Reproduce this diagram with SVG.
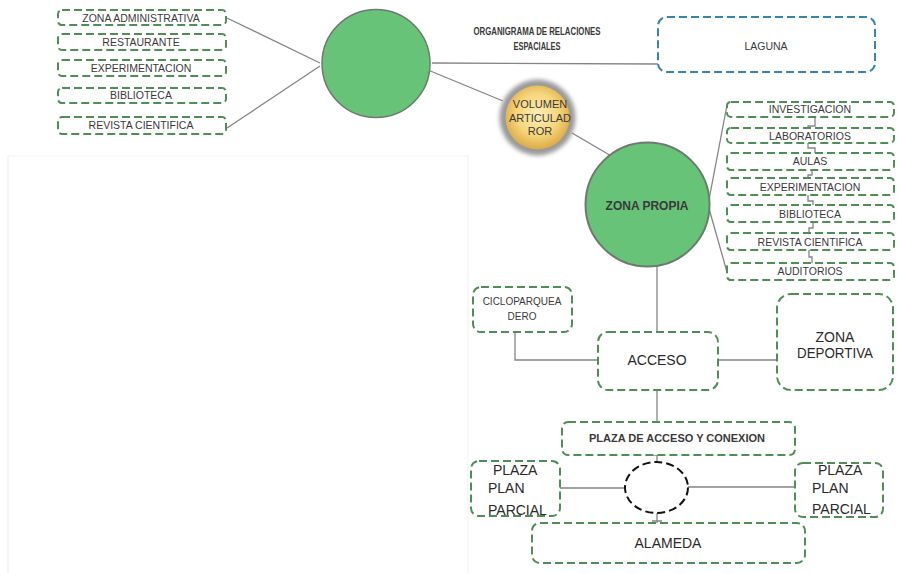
<svg xmlns="http://www.w3.org/2000/svg" width="897" height="573" viewBox="0 0 897 573">
<style>
.box{fill:#fff;stroke:#4f8f55;stroke-width:2;stroke-dasharray:8 4}
.blue{stroke:#3884aa}
.ln{stroke:#858585;stroke-width:1.3;fill:none}
.t{font-family:"Liberation Sans",Arial,sans-serif;fill:#3a3a3a;text-anchor:middle}
.s{font-size:10.5px}
.m{font-size:14px;fill:#2a2a2a}
.st{text-anchor:start}
.b{font-weight:bold}
</style>
<defs>
<radialGradient id="yg" cx="0.5" cy="0.45" r="0.55">
<stop offset="0" stop-color="#fdeeb8"/>
<stop offset="0.6" stop-color="#f6d57c"/>
<stop offset="1" stop-color="#dcaa45"/>
</radialGradient>
<filter id="blur" x="-30%" y="-30%" width="160%" height="160%"><feGaussianBlur stdDeviation="2"/></filter>
</defs>
<rect width="897" height="573" fill="#fff"/>
<rect x="8" y="156" width="460" height="430" fill="#fff" stroke="#efefef"/>

<g id="connectors">
<path class="ln" d="M227 18 L320 63 M227 128 L320 66"/>
<path class="ln" d="M432 63 L658 64"/>
<path class="ln" d="M428 70 L503 101"/>
<path class="ln" d="M572 133 L613 157"/>
<path class="ln" d="M708 205 L727 105 M708 205 L727 272"/>
<path class="ln" d="M815 117 V126 H808 V128 M808 143 V148 H815 V153 M812 170 V175 H808 V178 M808 195 V201 H813 V205 M813 222 V228 H809 V233 M809 250 V257 H812 V263"/>
<path class="ln" d="M657 266 V332"/>
<path class="ln" d="M515 332 V360 H598"/>
<path class="ln" d="M718 360 H777"/>
<path class="ln" d="M657 390 V422"/>
<path class="ln" d="M657 455 V462 M653 455 H660"/>
<path class="ln" d="M560 488 H625 M688 487 H795"/>
<path class="ln" d="M657 513 V523 M652 521 H662"/>
</g>

<g id="left-list">
<rect class="box" x="58" y="10" width="168" height="15" rx="4"/>
<text class="t s" x="141" y="22">ZONA ADMINISTRATIVA</text>
<rect class="box" x="58" y="34" width="168" height="16" rx="4"/>
<text class="t s" x="141" y="46">RESTAURANTE</text>
<rect class="box" x="58" y="60" width="168" height="16" rx="4"/>
<text class="t s" x="141" y="72">EXPERIMENTACION</text>
<rect class="box" x="58" y="88" width="168" height="15" rx="4"/>
<text class="t s" x="141" y="99">BIBLIOTECA</text>
<rect class="box" x="58" y="117" width="168" height="17" rx="4"/>
<text class="t s" x="141" y="129">REVISTA CIENTIFICA</text>
</g>

<g id="main-circle">
<circle cx="376" cy="63.5" r="54" fill="#66c377" stroke="#6d7a6d" stroke-width="1.5"/>
</g>

<g id="title">
<text class="t b" x="537" y="35" font-size="10.5" fill="#111" textLength="127" lengthAdjust="spacingAndGlyphs">ORGANIGRAMA DE RELACIONES</text>
<text class="t b" x="537" y="50" font-size="10.5" fill="#111" textLength="47" lengthAdjust="spacingAndGlyphs">ESPACIALES</text>
</g>

<g id="laguna">
<rect class="box blue" x="658" y="17" width="217" height="55" rx="9"/>
<text class="t s" x="766" y="50">LAGUNA</text>
</g>

<g id="volumen">
<circle cx="537.5" cy="117.5" r="38" fill="#9a9a9a" filter="url(#blur)"/>
<circle cx="537.5" cy="117.5" r="32" fill="url(#yg)"/>
<text class="t" x="540" y="108" font-size="11" fill="#4a3f2a">VOLUMEN</text>
<text class="t" x="540" y="122" font-size="11" fill="#4a3f2a">ARTICULAD</text>
<text class="t" x="540" y="135" font-size="11" fill="#4a3f2a">ROR</text>
</g>

<g id="zona-propia">
<circle cx="647.5" cy="204.5" r="62" fill="#66c377" stroke="#6d7a6d" stroke-width="2"/>
<text class="t b" x="647" y="210" font-size="12" fill="#222">ZONA PROPIA</text>
</g>

<g id="right-list">
<rect class="box" x="727" y="102" width="167" height="15" rx="4"/>
<text class="t s" x="810" y="113">INVESTIGACION</text>
<rect class="box" x="727" y="128" width="167" height="15" rx="4"/>
<text class="t s" x="810" y="140">LABORATORIOS</text>
<rect class="box" x="727" y="153" width="167" height="17" rx="4"/>
<text class="t s" x="810" y="165">AULAS</text>
<rect class="box" x="727" y="178" width="167" height="17" rx="4"/>
<text class="t s" x="810" y="191">EXPERIMENTACION</text>
<rect class="box" x="727" y="205" width="167" height="17" rx="4"/>
<text class="t s" x="810" y="218">BIBLIOTECA</text>
<rect class="box" x="727" y="233" width="167" height="17" rx="4"/>
<text class="t s" x="810" y="246">REVISTA CIENTIFICA</text>
<rect class="box" x="727" y="263" width="167" height="17" rx="4"/>
<text class="t s" x="810" y="275">AUDITORIOS</text>
</g>

<g id="cicloparqueadero">
<rect class="box" x="473" y="287" width="99" height="45" rx="8"/>
<text class="t" x="522" y="305" font-size="10">CICLOPARQUEA</text>
<text class="t" x="522" y="320" font-size="10">DERO</text>
</g>

<g id="acceso">
<rect class="box" x="598" y="332" width="120" height="58" rx="10"/>
<text class="t m" x="657" y="365">ACCESO</text>
</g>

<g id="zona-deportiva">
<rect class="box" x="777" y="294" width="116" height="96" rx="14"/>
<text class="t m" x="835" y="342" font-size="15">ZONA</text>
<text class="t m" x="835" y="358" font-size="15" textLength="76" lengthAdjust="spacingAndGlyphs">DEPORTIVA</text>
</g>

<g id="plaza-acceso">
<rect class="box" x="562" y="422" width="233" height="33" rx="6"/>
<text class="t b" x="677" y="442" font-size="11" fill="#2a2a2a">PLAZA DE ACCESO Y CONEXION</text>
</g>

<g id="rotonda">
<ellipse cx="656.5" cy="487.5" rx="31.5" ry="25.5" fill="none" stroke="#111" stroke-width="2" stroke-dasharray="8 4"/>
</g>

<g id="plaza-izq">
<rect class="box" x="471" y="461" width="89" height="55" rx="8"/>
<text class="t m st" x="493" y="475">PLAZA</text>
<text class="t m st" x="488" y="493">PLAN</text>
<text class="t m st" x="488" y="515">PARCIAL</text>
</g>

<g id="plaza-der">
<rect class="box" x="795" y="463" width="88" height="54" rx="8"/>
<text class="t m st" x="818" y="475">PLAZA</text>
<text class="t m st" x="812" y="493">PLAN</text>
<text class="t m st" x="812" y="514">PARCIAL</text>
</g>

<g id="alameda">
<rect class="box" x="532" y="523" width="273" height="40" rx="8"/>
<text class="t m" x="668" y="548" font-size="14.5">ALAMEDA</text>
</g>
</svg>
